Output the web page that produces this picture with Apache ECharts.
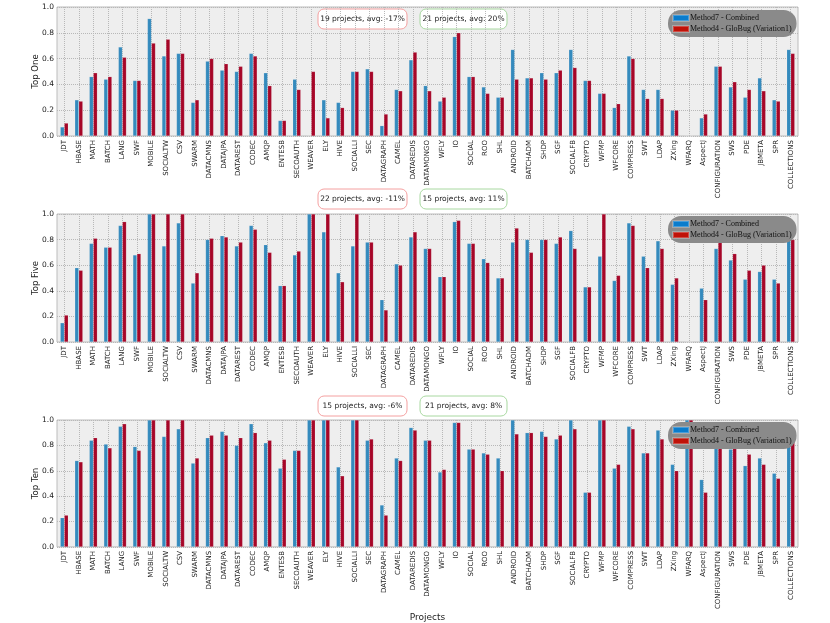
<!DOCTYPE html>
<html>
<head>
<meta charset="utf-8">
<script src="https://cdn.jsdelivr.net/npm/echarts@6/dist/echarts.min.js"></script>
<style>html,body{margin:0;padding:0;background:#fff}#c{width:830px;height:623px}</style>
</head>
<body>
<div id="c"></div>
<script>
const categories = ["JDT","HBASE","MATH","BATCH","LANG","SWF","MOBILE","SOCIALTW","CSV","SWARM",
"DATACMNS","DATAJPA","DATAREST","CODEC","AMQP","ENTESB","SECOAUTH","WEAVER","ELY","HIVE",
"SOCIALLI","SEC","DATAGRAPH","CAMEL","DATAREDIS","DATAMONGO","WFLY","IO","SOCIAL","ROO",
"SHL","ANDROID","BATCHADM","SHDP","SGF","SOCIALFB","CRYPTO","WFMP","WFCORE","COMPRESS",
"SWT","LDAP","ZXing","WFARQ","AspectJ","CONFIGURATION","SWS","PDE","JBMETA","SPR","COLLECTIONS"];

const seriesNames = ["Method7 - Combined", "Method4 - GloBug (Variation1)"];
const panelNames = ["Top One", "Top Five", "Top Ten"];
const xAxisTitle = "Projects";

const topOneCombined = [0.07,0.28,0.46,0.44,0.69,0.43,0.91,0.62,0.64,0.26,
0.58,0.51,0.50,0.64,0.49,0.12,0.44,0,0.28,0.26,
0.50,0.52,0.08,0.36,0.59,0.39,0.27,0.77,0.46,0.38,
0.30,0.67,0.45,0.49,0.49,0.67,0.43,0.33,0.22,0.62,
0.36,0.36,0.20,0,0.14,0.54,0.38,0.30,0.45,0.28,0.67];
const topOneGloBug = [0.10,0.27,0.49,0.46,0.61,0.43,0.72,0.75,0.64,0.28,
0.60,0.56,0.54,0.62,0.39,0.12,0.36,0.50,0.14,0.22,
0.50,0.50,0.17,0.35,0.65,0.35,0.30,0.80,0.46,0.33,
0.30,0.44,0.45,0.44,0.51,0.53,0.43,0.33,0.25,0.60,
0.29,0.29,0.20,0,0.17,0.54,0.42,0.36,0.35,0.27,0.64];

const topFiveCombined = [0.15,0.58,0.77,0.74,0.91,0.68,1.0,0.75,0.93,0.46,
0.80,0.83,0.75,0.91,0.76,0.44,0.68,1.0,0.86,0.54,
0.75,0.78,0.33,0.61,0.82,0.73,0.51,0.94,0.77,0.65,
0.50,0.78,0.80,0.80,0.77,0.87,0.43,0.67,0.48,0.93,
0.67,0.79,0.45,0,0.42,0.73,0.64,0.49,0.55,0.49,0.80];
const topFiveGloBug = [0.21,0.56,0.81,0.74,0.94,0.69,1.0,1.0,1.0,0.54,
0.81,0.82,0.78,0.88,0.70,0.44,0.71,1.0,1.0,0.47,
1.0,0.78,0.25,0.60,0.86,0.73,0.51,0.95,0.77,0.62,
0.50,0.89,0.70,0.80,0.82,0.73,0.43,1.0,0.52,0.91,
0.58,0.73,0.50,0,0.33,0.79,0.69,0.56,0.60,0.46,0.80];

const topTenCombined = [0.23,0.68,0.84,0.81,0.95,0.79,1.0,0.87,0.93,0.66,
0.86,0.91,0.80,0.97,0.82,0.62,0.76,1.0,1.0,0.63,
1.0,0.84,0.33,0.70,0.94,0.84,0.59,0.98,0.77,0.74,
0.70,1.0,0.90,0.91,0.85,1.0,0.43,1.0,0.62,0.95,
0.74,0.92,0.65,1.0,0.53,0.87,0.77,0.64,0.70,0.58,0.90];
const topTenGloBug = [0.25,0.67,0.86,0.78,0.97,0.76,1.0,1.0,1.0,0.70,
0.88,0.88,0.86,0.90,0.84,0.69,0.76,1.0,1.0,0.56,
1.0,0.85,0.25,0.68,0.92,0.84,0.61,0.98,0.77,0.73,
0.60,0.89,0.90,0.87,0.88,0.93,0.43,1.0,0.65,0.93,
0.74,0.85,0.60,1.0,0.43,0.87,0.78,0.73,0.65,0.54,0.90];

const yTicks = [0, 0.2, 0.4, 0.6, 0.8, 1.0];
const summaryLabels = [
  ["19 projects, avg: -17%", "21 projects, avg: 20%"],
  ["22 projects, avg: -11%", "15 projects, avg: 11%"],
  ["15 projects, avg: -6%", "21 projects, avg: 8%"]
];

const panelData = [
  [topOneCombined, topOneGloBug],
  [topFiveCombined, topFiveGloBug],
  [topTenCombined, topTenGloBug]
];

// layout (styles only)
const gridTops = [7, 214, 420];
const gridH = [129, 128, 129];
const gridLeft = 57, gridWidth = 741;
const barColors = ['#348ABD', '#A60628'];
const legendColors = ['#0a7ccc', '#c01208'];
const legendTops = [10, 216, 422];
const boxTops = [9, 189, 396];
const FONT = 'DejaVu Sans';

const gridLineCats = [];
for (let k = 0; k <= categories.length * 2; k++) gridLineCats.push(String(k));

const grids = [], xAxes = [], yAxes = [], series = [], legends = [], graphics = [];
for (let p = 0; p < 3; p++) {
  grids.push({left: gridLeft, width: gridWidth, top: gridTops[p], height: gridH[p],
    show: true, backgroundColor: '#eeeeee', borderColor: '#bcbcbc', borderWidth: 1});
  xAxes.push({type: 'category', gridIndex: p, data: categories,
    axisLine: {show: false}, axisTick: {show: false}, splitLine: {show: false},
    axisLabel: {rotate: 90, interval: 0, fontSize: 7, color: '#222', fontFamily: FONT, margin: 4},
    name: p === 2 ? xAxisTitle : '', nameLocation: 'middle', nameGap: 62,
    nameTextStyle: {fontSize: 9, color: '#222', fontFamily: FONT}});
  yAxes.push({type: 'value', gridIndex: p, min: yTicks[0], max: yTicks[yTicks.length - 1], interval: 0.2,
    name: panelNames[p], nameLocation: 'middle', nameGap: 17, nameMoveOverlap: false,
    nameTextStyle: {fontSize: 8.5, color: '#222', fontFamily: FONT},
    axisLine: {show: false}, axisTick: {show: false},
    axisLabel: {fontSize: 7.5, color: '#222', fontFamily: FONT, margin: 3,
      formatter: v => v.toFixed(1)},
    splitLine: {show: true, lineStyle: {color: '#b8b8b8', type: 'dotted', width: 1}}});
  for (let s = 0; s < 2; s++) {
    series.push({type: 'bar', name: seriesNames[s], xAxisIndex: p, yAxisIndex: p,
      data: panelData[p][s], barWidth: 4, barGap: '0%',
      itemStyle: {color: barColors[s], borderColor: 'rgba(255,255,255,0.25)', borderWidth: 0.5},
      emphasis: {disabled: true}, animation: false});
  }
  legends.push({orient: 'vertical', left: 668, top: legendTops[p], selectedMode: false,
    backgroundColor: '#8a8a8a', borderRadius: 13, padding: [4, 5, 4, 4],
    itemWidth: 16, itemHeight: 6, itemGap: 3,
    textStyle: {fontFamily: 'Liberation Serif', fontSize: 8, color: '#111', padding: [0, 0, 0, -4]},
    data: seriesNames.map((n, i) => ({name: n, icon: 'rect', itemStyle: {color: legendColors[i]}}))});
  const boxes = [{x: 318, w: 89, stroke: '#f4a0a0'}, {x: 420, w: 87, stroke: '#a8d8a0'}];
  boxes.forEach((b, i) => {
    graphics.push({type: 'group', x: b.x, y: boxTops[p], z: 100, children: [
      {type: 'rect', shape: {x: 0, y: 0, width: b.w, height: 20, r: 6},
        style: {fill: '#ffffff', stroke: b.stroke, lineWidth: 1}},
      {type: 'text', x: b.w / 2, y: 10, style: {text: summaryLabels[p][i], fill: '#222',
        font: '7.5px "DejaVu Sans"', align: 'center', verticalAlign: 'middle'}}
    ]});
  });
}
// hidden axes providing vertical grid lines through category centers
for (let p = 0; p < 3; p++) {
  xAxes.push({type: 'category', gridIndex: p, data: gridLineCats, boundaryGap: false,
    axisLine: {show: false}, axisTick: {show: false}, axisLabel: {show: false},
    splitLine: {show: true, interval: (idx) => idx % 2 === 1,
      lineStyle: {color: '#b8b8b8', type: 'dotted', width: 1}}});
}

const chart = echarts.init(document.getElementById('c'), null, {renderer: 'canvas'});
chart.setOption({
  animation: false,
  grid: grids, xAxis: xAxes, yAxis: yAxes, series: series, legend: legends,
  graphic: graphics
});
</script>
</body>
</html>
